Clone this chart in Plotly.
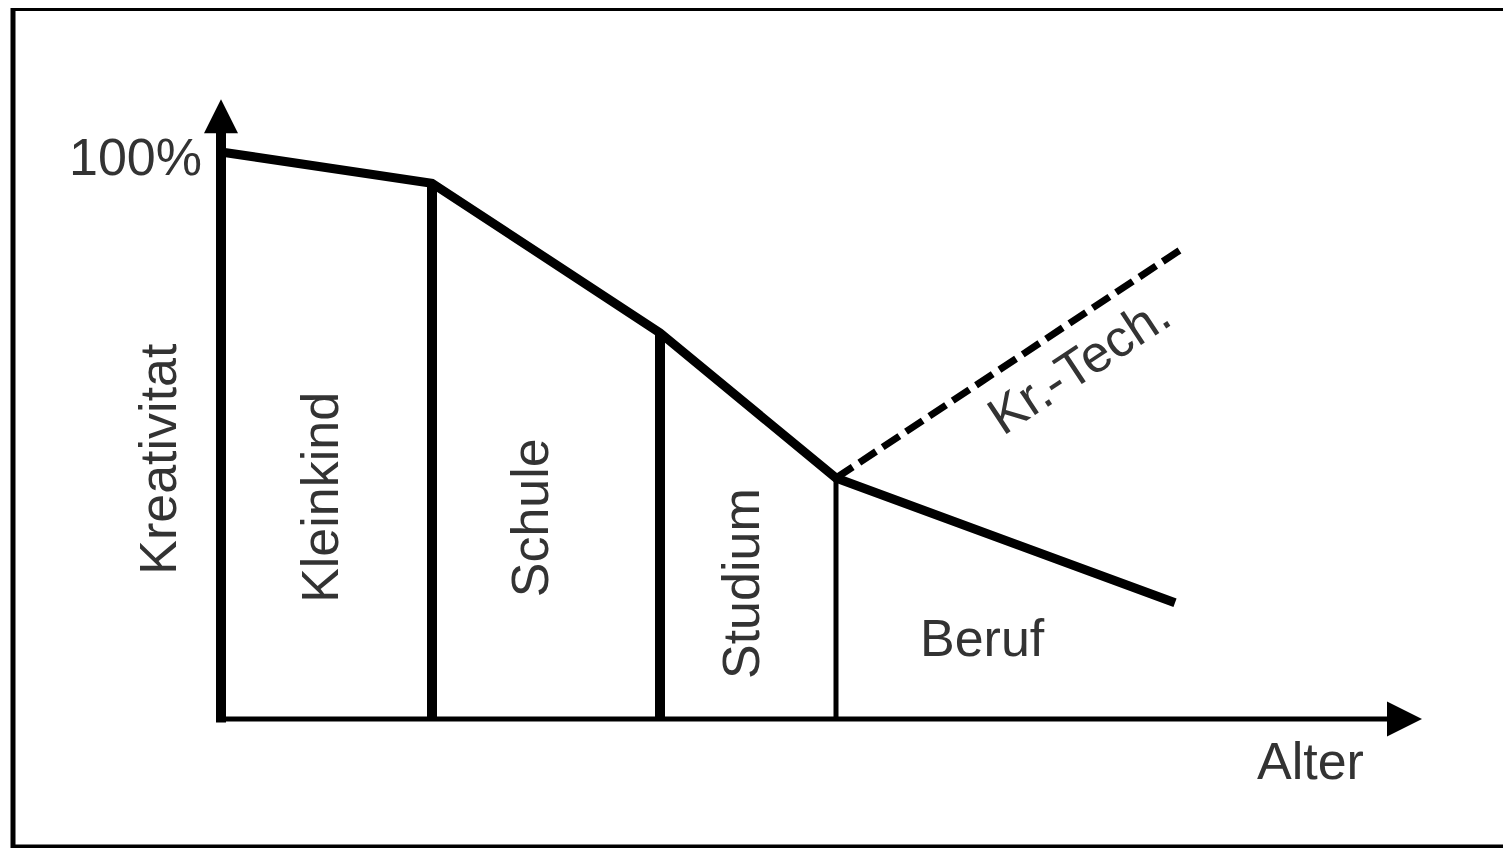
import plotly.graph_objects as go

# Kreativitaet ueber dem Alter (Werte in %, Alter in beliebigen Einheiten)
alter = [0, 21.1, 43.9, 61.5, 95.4]
kreativitaet = [100, 94.5, 68.1, 42.5, 20.5]

# Abzweig "Kreativitaetstechniken" ab Berufsbeginn
tech_alter = [61.5, 95.9]
tech_kreativitaet = [42.5, 82.7]

# Grenzen der Lebensphasen (Index in alter/kreativitaet)
phasen_idx = [1, 2, 3]
phasen_breite = [10, 10, 5]

phasen_namen = ["Kleinkind", "Schule", "Studium", "Beruf"]
phasen_x = [9.9, 30.9, 52.0, 76.1]
phasen_y = [39.0, 35.4, 23.8, 14.3]
phasen_winkel = [-90, -90, -90, 0]

x_max = 120.1   # Pfeilspitze Alter-Achse
y_max = 109.3   # Pfeilspitze Kreativitaet-Achse

FONT = "Liberation Sans, Arial, sans-serif"
TXT = "#333333"

# die Seite hat 8px Rand (body margin), daher leicht verschobene Bereiche
RAND = 8

fig = go.Figure()

# Achsen
fig.add_trace(go.Scatter(x=[0, 0], y=[-0.6, y_max - 3], mode="lines",
                         line=dict(color="black", width=10)))
fig.add_trace(go.Scatter(x=[-0.5, x_max - 2.5], y=[0, 0], mode="lines",
                         line=dict(color="black", width=5)))
fig.add_trace(go.Scatter(x=[0], y=[y_max], mode="markers",
                         marker=dict(symbol="arrow-up", size=34, color="black",
                                     line=dict(width=0))))
fig.add_trace(go.Scatter(x=[x_max], y=[0], mode="markers",
                         marker=dict(symbol="arrow-right", size=35, color="black",
                                     line=dict(width=0))))

# Phasengrenzen
for i, w in zip(phasen_idx, phasen_breite):
    fig.add_trace(go.Scatter(x=[alter[i], alter[i]], y=[0, kreativitaet[i]],
                             mode="lines", line=dict(color="black", width=w)))

# Verlauf der Kreativitaet
fig.add_trace(go.Scatter(x=alter, y=kreativitaet, mode="lines",
                         line=dict(color="black", width=9)))
fig.add_trace(go.Scatter(x=tech_alter, y=tech_kreativitaet, mode="lines",
                         line=dict(color="black", width=7, dash="20px,8px")))

# Beschriftungen
for name, x, y, a in zip(phasen_namen, phasen_x, phasen_y, phasen_winkel):
    fig.add_annotation(x=x, y=y, text=name, textangle=a, showarrow=False,
                       font=dict(family=FONT, size=52, color=TXT))

fig.add_annotation(x=-6.3, y=45.9, text="Kreativitat", textangle=-90, showarrow=False,
                   font=dict(family=FONT, size=52, color=TXT))
fig.add_annotation(x=-1.7, y=99.1, text="100%", xanchor="right", showarrow=False,
                   font=dict(family=FONT, size=52, color=TXT))
fig.add_annotation(x=108.9, y=-7.4, text="Alter", showarrow=False,
                   font=dict(family=FONT, size=52, color=TXT))
fig.add_annotation(x=85.7, y=62.5, text="Kr.-Tech.", textangle=-33.5, showarrow=False,
                   font=dict(family=FONT, size=52, color=TXT))

# Rahmen
fig.add_shape(type="rect", xref="paper", yref="paper",
              x0=(13 - RAND) / 1511, x1=1.02,
              y0=1 - (8.5 - RAND) / 848, y1=1 - (847 - RAND) / 848,
              line=dict(color="black", width=5))

fig.update_layout(
    width=1511, height=848,
    margin=dict(l=0, r=0, t=0, b=0),
    paper_bgcolor="white", plot_bgcolor="white",
    showlegend=False, hovermode=False,
    xaxis=dict(range=[-(221 - RAND) / 10, (1511 - 221 + RAND) / 10],
               visible=False, fixedrange=True),
    yaxis=dict(range=[-(848 - 719 + RAND) / 5.67, (719 - RAND) / 5.67],
               visible=False, fixedrange=True),
)

fig.write_html("out.html")
